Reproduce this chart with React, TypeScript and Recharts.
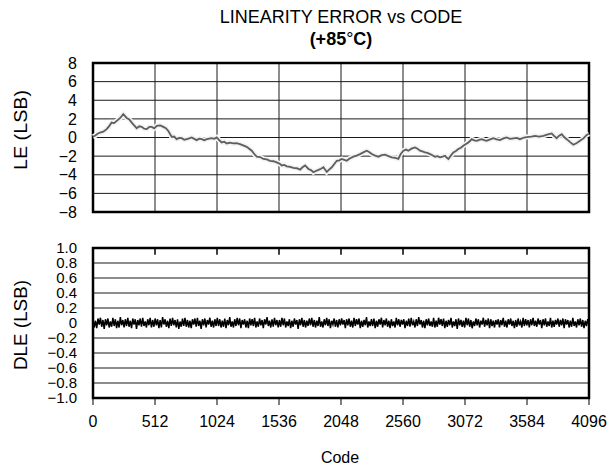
import { CartesianGrid, Line, LineChart, ReferenceArea, ReferenceLine, XAxis, YAxis } from 'recharts'

const CODE_TICKS = [0, 512, 1024, 1536, 2048, 2560, 3072, 3584, 4096]
const LE_TICKS = [-8, -6, -4, -2, 0, 2, 4, 6, 8]
const DLE_TICKS = [-1, -0.8, -0.6, -0.4, -0.2, 0, 0.2, 0.4, 0.6, 0.8, 1]

// LE, code -> LSB
const LE_CODES = [
  0, 16, 38, 58, 85, 113, 135, 154, 175, 196, 225, 250, 278, 300, 320, 340, 361, 382, 402, 423, 444, 465, 485, 506,
  526, 555, 581, 602, 622, 650, 670, 691, 712, 733, 754, 774, 795, 815, 836, 856, 877, 898, 919, 939, 960, 980, 1001,
  1022, 1043, 1063, 1084, 1104, 1130, 1159, 1185, 1214, 1240, 1269, 1290, 1311, 1330, 1352, 1380, 1407, 1435, 1462,
  1490, 1517, 1540, 1559, 1580, 1600, 1628, 1655, 1683, 1710, 1730, 1752, 1779, 1800, 1820, 1840, 1862, 1883, 1903,
  1930, 1950, 1972, 2013, 2035, 2053, 2075, 2095, 2120, 2150, 2178, 2205, 2232, 2260, 2280, 2302, 2330, 2357, 2385,
  2412, 2440, 2467, 2495, 2522, 2540, 2563, 2585, 2604, 2630, 2659, 2680, 2700, 2720, 2742, 2762, 2783, 2803, 2824,
  2845, 2866, 2887, 2907, 2920, 2935, 2955, 2976, 2997, 3017, 3038, 3058, 3080, 3100, 3115, 3127, 3148, 3169, 3190,
  3210, 3230, 3251, 3280, 3306, 3333, 3361, 3390, 3416, 3444, 3471, 3500, 3526, 3560, 3595, 3620, 3650, 3685, 3719,
  3750, 3788, 3810, 3829, 3850, 3871, 3890, 3912, 3940, 3967, 3995, 4022, 4050, 4077, 4096,
]
const LE_VALUES = [
  0.1, 0.18, 0.4, 0.53, 0.62, 0.9, 1.25, 1.6, 1.55, 1.78, 2.1, 2.5, 2.1, 1.95, 1.6, 1.3, 1.0, 1.2, 1.14, 0.95, 0.9,
  1.15, 1.14, 0.98, 1.25, 1.3, 1.14, 1.0, 0.7, 0.07, 0.1, -0.18, -0.05, -0.07, -0.25, -0.18, -0.1, 0, -0.15, -0.28,
  -0.12, -0.18, -0.3, -0.18, -0.12, -0.07, -0.15, 0, -0.3, -0.53, -0.45, -0.64, -0.55, -0.64, -0.6, -0.71, -0.85,
  -1.0, -1.2, -1.42, -1.75, -2.06, -2.1, -2.3, -2.35, -2.5, -2.55, -2.67, -2.8, -3.0, -2.95, -3.1, -3.15, -3.27,
  -3.3, -3.45, -3.2, -3.0, -3.38, -3.5, -3.73, -3.6, -3.48, -3.35, -3.2, -3.7, -3.45, -3.2, -2.5, -2.45, -2.3, -2.4,
  -2.5, -2.25, -2.06, -1.95, -1.78, -1.6, -1.42, -1.55, -1.78, -1.95, -2.06, -1.9, -1.85, -2.0, -2.13, -2.2, -2.3,
  -1.8, -1.42, -1.3, -1.42, -1.2, -1.07, -1.2, -1.42, -1.5, -1.6, -1.65, -1.78, -1.9, -2.06, -2.0, -2.13, -2.05,
  -1.96, -2.15, -2.3, -1.95, -1.6, -1.45, -1.24, -1.1, -0.89, -0.7, -0.53, -0.35, -0.18, -0.3, -0.36, -0.25, -0.18,
  -0.28, -0.36, -0.2, -0.07, -0.2, -0.28, -0.1, 0, -0.15, -0.1, -0.05, -0.18, 0.0, 0.07, 0.1, 0.18, 0.1, 0.18, 0.3,
  0.43, 0.15, -0.07, 0.2, 0.36, 0.05, -0.18, -0.5, -0.78, -0.6, -0.36, -0.1, 0.28, 0.4,
]

// DLE in hundredths of an LSB, evenly spread over the codes
const DLE_HUNDREDTHS = [
  5, -6, 3, -7, 6, -2, 7, -5, 4, -8, 5, -3, 6, -6, 2, -5, 7, -4, 5, -7, 3, -6, 8, -3, 4,
  -6, 5, -4, 7, -5, 3, -7, 6, -2, 5, -8, 4, -3, 6, -5, 7, -4, 2, -6, 5, -3, 7, -6, 4, -5,
  6, -3, 5, -7, 4, -6, 8, -2, 5, -5, 3, -7, 6, -4, 7, -3, 4, -6, 5, -8, 2, -5, 6, -4, 7,
  -5, 4, -6, 3, -7, 5, -2, 6, -5, 7, -4, 3, -8, 5, -3, 6, -6, 4, -2, 7, -5, 3, -6, 5, -4,
  7, -4, 5, -6, 3, -5, 6, -7, 4, -3, 8, -5, 2, -6, 5, -4, 7, -3, 6, -7, 4, -2, 5, -6, 3,
  -7, 6, -3, 5, -4, 7, -6, 2, -5, 6, -3, 4, -7, 5, -2, 8, -4, 3, -6, 5, -5, 7, -3, 4, -6,
  4, -5, 7, -3, 6, -6, 2, -4, 5, -7, 3, -5, 6, -2, 4, -8, 5, -3, 7, -5, 4, -6, 3, -4, 6,
  -3, 7, -5, 4, -6, 3, -4, 8, -5, 2, -6, 5, -3, 7, -4, 5, -7, 3, -2, 6, -5, 4, -6, 5, -3,
  6, -2, 4, -7, 5, -3, 6, -5, 3, -6, 7, -4, 5, -2, 6, -7, 3, -5, 4, -3, 8, -6, 2, -4, 5,
  -4, 6, -7, 3, -5, 5, -2, 7, -6, 4, -3, 6, -5, 3, -7, 5, -4, 2, -6, 7, -3, 5, -5, 4, -2,
  5, -7, 3, -4, 6, -5, 7, -3, 2, -6, 5, -4, 8, -2, 4, -6, 3, -7, 5, -3, 6, -4, 2, -5, 7,
  -6, 3, -5, 7, -2, 5, -4, 6, -7, 3, -5, 4, -3, 7, -6, 2, -4, 5, -8, 6, -3, 4, -5, 3, -6,
  7, -3, 6, -5, 4, -7, 2, -4, 6, -3, 5, -6, 3, -2, 7, -5, 4, -3, 6, -7, 5, -4, 3, -6, 4,
  -2, 5, -6, 4, -3, 7, -5, 3, -6, 5, -2, 6, -4, 3, -7, 4, -5, 6, -3, 2, -6, 7, -4, 5, -3,
  4, -6, 5, -3, 7, -4, 3, -5, 6, -2, 4, -7, 5, -3, 6, -5, 2, -4, 7, -6, 3, -5, 4, -2, 6,
  -5, 4, -3, 6, -7, 5, -2, 4, -6, 3, -5, 7, -4, 2, -6, 5, -3, 6, -5, 4, -7, 3, -4, 5, -2,
]

const FONT = '"Liberation Sans", Arial, Helvetica, sans-serif'
const TICK = { fontSize: 16, fill: '#000', fontFamily: FONT }
const DLE_TICK = { fontSize: 15, fill: '#000', fontFamily: FONT }
const HIDDEN_TICK = { fontSize: 1, fill: 'transparent' }
const GRID = '#1a1a1a'

const minus = (v: number) => (v < 0 ? '\u2212' + Math.abs(v) : String(v))
const dleFmt = (v: number) => (v === 0 ? '0' : (v < 0 ? '\u2212' : '') + Math.abs(v).toFixed(1))

export default function App() {
  const leData = LE_CODES.map((code, i) => ({ code, le: LE_VALUES[i] }))
  const dleData = DLE_HUNDREDTHS.map((h, i) => ({ code: (i * 4096) / (DLE_HUNDREDTHS.length - 1), dle: h / 100 }))

  return (
    <div style={{ position: 'fixed', left: 0, top: 0, width: 611, height: 470, background: '#fff', fontFamily: FONT }}>
      <div style={{ position: 'absolute', left: 0, top: 0 }}>
        <LineChart width={611} height={224} data={leData} margin={{ top: 63, right: 22, left: 0, bottom: 0 }}>
          <CartesianGrid stroke={GRID} strokeWidth={1} />
          <XAxis
            type="number"
            dataKey="code"
            domain={[0, 4096]}
            ticks={CODE_TICKS}
            interval={0}
            tick={HIDDEN_TICK}
            tickLine={false}
            axisLine={false}
            height={12}
          />
          <YAxis
            type="number"
            domain={[-8, 8]}
            ticks={LE_TICKS}
            tickFormatter={minus}
            tick={TICK}
            tickLine={false}
            axisLine={false}
            tickSize={0}
            tickMargin={16}
            width={93}
            interval={0}
          />
          <ReferenceArea x1={0} x2={4096} y1={-8} y2={8} fill="none" stroke="#000" strokeWidth={2.5} />
          <Line dataKey="le" stroke="#f3f3f3" strokeWidth={5} dot={false} isAnimationActive={false} />
          <Line dataKey="le" stroke="#5e5e5e" strokeWidth={1.8} dot={false} isAnimationActive={false} />
        </LineChart>
      </div>

      <div style={{ position: 'absolute', left: 0, top: 230 }}>
        <LineChart width={611} height={240} data={dleData} margin={{ top: 18, right: 22, left: 0, bottom: 0 }}>
          <CartesianGrid stroke={GRID} strokeWidth={1} vertical={false} />
          <XAxis
            type="number"
            dataKey="code"
            domain={[0, 4096]}
            ticks={CODE_TICKS}
            interval={0}
            tick={TICK}
            tickSize={7}
            tickMargin={11}
            axisLine={false}
            height={72}
            stroke="#000"
          />
          <YAxis
            type="number"
            domain={[-1, 1]}
            ticks={DLE_TICKS}
            tickFormatter={dleFmt}
            tick={DLE_TICK}
            tickLine={false}
            axisLine={false}
            tickSize={0}
            tickMargin={16}
            width={93}
            interval={0}
          />
          {CODE_TICKS.slice(1, -1).map((t) => (
            <ReferenceLine
              key={t}
              segment={[
                { x: t, y: 1 },
                { x: t, y: 0.91 },
              ]}
              stroke="#000"
              strokeWidth={1.5}
            />
          ))}
          <ReferenceArea x1={0} x2={4096} y1={-1} y2={1} fill="none" stroke="#000" strokeWidth={2.5} />
          <Line dataKey="dle" stroke="#000" strokeWidth={1.5} dot={false} isAnimationActive={false} />
        </LineChart>
      </div>

      <svg width={611} height={470} style={{ position: 'absolute', left: 0, top: 0, pointerEvents: 'none' }}>
        <text x={341} y={23} textAnchor="middle" fontSize={18} fontFamily={FONT} fill="#000">
          LINEARITY ERROR vs CODE
        </text>
        <text x={341} y={45} textAnchor="middle" fontSize={18} fontFamily={FONT} fontWeight="bold" fill="#000">
          (+85<tspan fontWeight="normal">°</tspan>C)
        </text>
        <text
          transform="translate(27,130) rotate(-90)"
          textAnchor="middle"
          fontSize={18}
          fontFamily={FONT}
          fill="#000"
          textLength={80}
          lengthAdjust="spacingAndGlyphs"
        >
          LE (LSB)
        </text>
        <text
          transform="translate(27,325) rotate(-90)"
          textAnchor="middle"
          fontSize={18}
          fontFamily={FONT}
          fill="#000"
          textLength={90}
          lengthAdjust="spacingAndGlyphs"
        >
          DLE (LSB)
        </text>
        <text x={340} y={463} textAnchor="middle" fontSize={16} fontFamily={FONT} fill="#000">
          Code
        </text>
      </svg>
    </div>
  )
}
